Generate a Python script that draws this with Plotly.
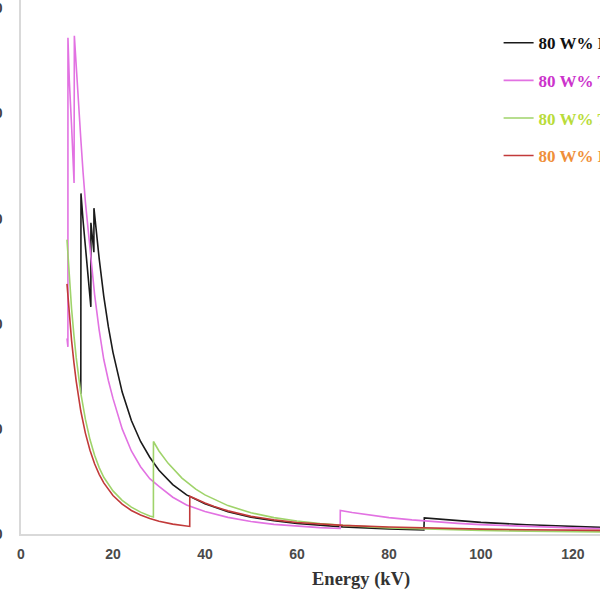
import plotly.graph_objects as go

# ---------------- data ----------------
# Series 1 (black)
energy_pb = [13.0, 13.04, 13.5, 14, 14.5, 15.19, 15.2, 15.5, 15.85, 15.86, 16.5, 17, 18, 19, 20,
             22, 24, 26, 28, 30, 33, 36, 40, 45, 50, 55, 60, 70, 80, 87.6, 87.7, 92, 96, 100,
             110, 120, 127]
mu_pb = [66.7, 162, 149, 136, 124, 108, 148, 141, 134, 155, 141, 131, 113, 98.5, 86.4,
         67.5, 54, 44, 36.5, 30.3, 23.5, 18.6, 14.4, 10.6, 8.04, 6.3, 5.0, 3.4, 2.42, 1.91, 7.68,
         6.9, 6.1, 5.55, 4.4, 3.55, 3.05]

# Series 2 (pink)
energy_w = [10, 10.2, 10.21, 10.5, 11, 11.54, 11.6, 12.0, 12.5, 13, 13.5, 14, 15, 16,
            17, 18, 19, 20, 22, 24, 26, 28, 30, 33, 36, 40, 45, 50, 55, 60, 65, 69.4, 69.43,
            72, 76, 80, 85, 90, 95, 100, 110, 120, 127]
mu_w = [93, 89, 236, 216, 194, 167, 237, 222, 205, 188, 172, 158, 136, 114,
        97, 83, 73, 64.5, 50, 39.5, 32, 26.3, 22.7, 17.5, 13.8, 10.7, 7.9, 5.95, 4.6, 3.71,
        3.05, 2.6, 11.2, 10.2, 8.9, 7.8, 6.7, 5.8, 5.05, 4.44, 3.55, 2.9, 2.5]

# Series 3 (green)
energy_sn = [10, 10.5, 11, 11.5, 12, 13, 14, 15, 16, 17, 18, 20, 22, 24, 26, 28, 28.79, 28.8,
             30, 32, 35, 38, 40, 45, 50, 55, 60, 65, 70, 80, 90, 100, 110, 120, 127]
mu_sn = [140, 122, 107, 94.7, 84, 67, 54.6, 44.9, 37.5, 31.6, 27, 20.5, 16, 12.8, 10.4, 8.6,
         8.1, 44, 39.5, 33.6, 26.6, 21.3, 18.6, 13.5, 10.1, 7.8, 6.2, 5.0, 4.1, 2.9, 2.15, 1.65,
         1.35, 1.12, 1.0]

# Series 4 (red)
energy_ba = [10, 10.5, 11, 11.5, 12, 13, 14, 15, 16, 17, 18, 20, 22, 24, 26, 28, 30, 33, 35,
             36.69, 36.7, 38, 40, 42, 45, 50, 55, 60, 65, 70, 80, 90, 100, 110, 120, 127]
mu_ba = [119, 104, 92, 81.6, 72.7, 58.5, 48, 39.8, 33.4, 28.4, 24.3, 18.3, 14.2, 11.2, 9.0,
         7.4, 6.1, 4.7, 4.0, 3.6, 18, 16.6, 14.8, 13.1, 11.0, 8.4, 6.7, 5.5, 4.7, 4.1, 3.3,
         2.7, 2.3, 2.0, 1.8, 1.7]

series_names = ["80 W% Lead", "80 W% Tungsten", "80 W% Tin", "80 W% Barium"]
x_tick_vals = [0, 20, 40, 60, 80, 100, 120]
y_tick_vals = [0, 50, 100, 150, 200, 250]
x_title = "Energy (kV)"

# ---------------- styling ----------------
line_colors = ["#1a1a1a", "#e272e2", "#9fd36a", "#c23a3a"]
text_colors = ["#111111", "#cc33cc", "#b9dc3a", "#ef8f3a"]

fig = go.Figure()
data = [(energy_pb, mu_pb), (energy_w, mu_w), (energy_sn, mu_sn), (energy_ba, mu_ba)]
for i, (xs, ys) in enumerate(data):
    fig.add_trace(go.Scatter(
        x=xs, y=ys, mode="lines",
        line=dict(color=line_colors[i], width=1.6),
        name=f"<span style='color:{text_colors[i]}'>{series_names[i]}</span>",
        legendgroup=f"g{i}",
    ))

fig.update_layout(
    width=600, height=600,
    margin=dict(l=21, r=0, t=0, b=66, autoexpand=False),
    paper_bgcolor="white", plot_bgcolor="white",
    showlegend=True,
    legend=dict(
        xref="container", yref="container",
        x=0.831, y=0.958, xanchor="left", yanchor="top",
        bgcolor="rgba(0,0,0,0)",
        font=dict(family="Liberation Serif", size=17, weight="bold"),
        tracegroupgap=12.5,
    ),
    xaxis=dict(
        range=[0, 125.9], tickvals=x_tick_vals,
        showgrid=False, zeroline=False,
        showline=True, linecolor="#d9d9d9", linewidth=1.5,
        ticks="", ticklabelstandoff=6,
        tickfont=dict(family="Liberation Sans", size=14, color="#4a4a4a", weight="bold"),
        automargin=False,
    ),
    yaxis=dict(
        range=[0, 254], tickvals=y_tick_vals,
        showgrid=False, zeroline=False,
        showline=True, linecolor="#d9d9d9", linewidth=1.5,
        ticks="", ticklabelstandoff=14,
        tickfont=dict(family="Liberation Sans", size=14, color="#404040", weight="bold"),
        automargin=False,
    ),
    annotations=[dict(
        x=73.9, xref="x", y=-0.086, yref="paper",
        text=f"<b>{x_title}</b>", showarrow=False,
        font=dict(family="Liberation Serif", size=18.5, color="#333333"),
        xanchor="center", yanchor="middle",
    )],
)

fig.write_html("out.html", config={"displayModeBar": False},
               post_script="document.body.style.margin='0';")
